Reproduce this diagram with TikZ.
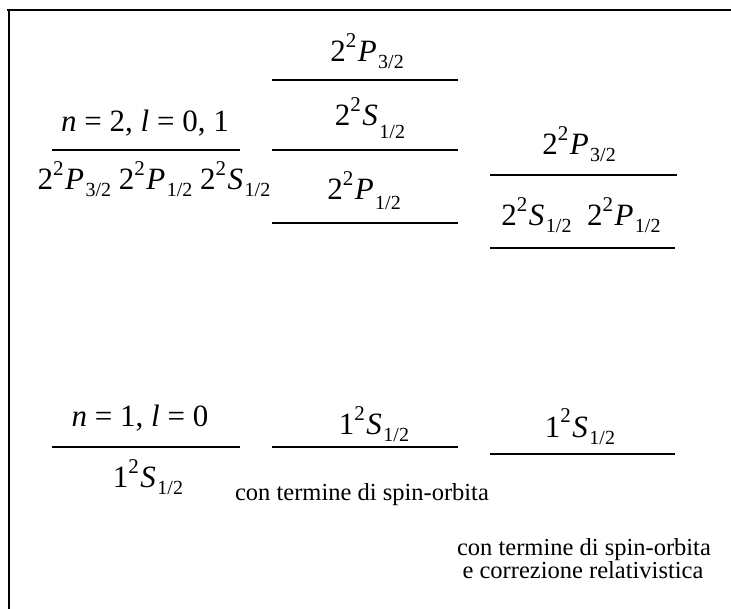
\documentclass[tikz,border=0pt]{standalone}
\usepackage{fontspec}
\setmainfont{Liberation Serif}
\newcommand\lvsup[1]{\raisebox{14pt}{\fontsize{21}{21}\selectfont #1}}
\newcommand\lvsub[2][7pt]{\raisebox{-#1}{\fontsize{20}{20}\selectfont #2}}
\newcommand\lvst[5][7pt]{#2\lvsup{#3}\kern1.5pt\textit{#4}\kern1.5pt\lvsub[#1]{#5}}
\tikzset{
  labtxt/.style={anchor=base, inner sep=0pt, font=\fontsize{31}{31}\selectfont},
  captxt/.style={anchor=base, inner sep=0pt, font=\fontsize{24.5}{24.5}\selectfont},
  lvline/.style={line width=1.8pt},
  framel/.style={line width=2.2pt}
}
\begin{document}
\begin{tikzpicture}[x=1pt,y=-1pt]
\useasboundingbox[fill=white] (0,0) rectangle (731,609);
% frame
\draw[framel] (7,10) -- (731,10);
\draw[framel] (9,9) -- (9,609);
% column 1, n=2
\node[labtxt] (n2) at (145,132) {\textit{n} = 2, \textit{l} = 0, 1};
\draw[lvline] (52,150) -- (240,150);
\node[labtxt] (n2s) at (154,190) {\lvst{2}{2}{P}{3/2}\ \lvst{2}{2}{P}{1/2}\ \lvst{2}{2}{S}{1/2}};
% column 2, spin-orbit
\node[labtxt] (bp32) at (367,62) {\lvst{2}{2}{P}{3/2}};
\draw[lvline] (272,80) -- (458,80);
\node[labtxt] (bs12) at (370,126) {\lvst[13pt]{2}{2}{S}{1/2}};
\draw[lvline] (272,150) -- (458,150);
\node[labtxt] (bp12) at (364,200) {\lvst[10pt]{2}{2}{P}{1/2}};
\draw[lvline] (272,223) -- (458,223);
% column 3, relativistic
\node[labtxt] (cp32) at (579,155) {\lvst{2}{2}{P}{3/2}};
\draw[lvline] (490,175) -- (677,175);
\node[labtxt] (cs12) at (581,226) {\lvst{2}{2}{S}{1/2}\ \ \lvst{2}{2}{P}{1/2}};
\draw[lvline] (490,248) -- (675,248);
% n=1 row
\node[labtxt] (n1) at (140,427) {\textit{n} = 1, \textit{l} = 0};
\draw[lvline] (52,447) -- (240,447);
\node[labtxt] (n1s) at (148,487) {\lvst{1}{2}{S}{1/2}};
\draw[lvline] (272,447) -- (458,447);
\node[labtxt] (b1s) at (374,435) {\lvst{1}{2}{S}{1/2}};
\draw[lvline] (490,454) -- (675,454);
\node[labtxt] (c1s) at (580,437) {\lvst{1}{2}{S}{1/2}};
% captions
\node[captxt] (capb) at (362,500) {con termine di spin-orbita};
\node[captxt] (capc1) at (584,555) {con termine di spin-orbita};
\node[captxt] (capc2) at (583,578) {e correzione relativistica};
\end{tikzpicture}
\end{document}
